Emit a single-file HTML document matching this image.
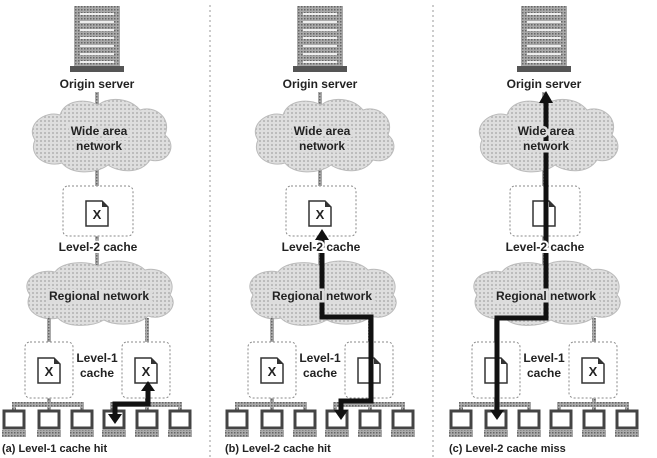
<!DOCTYPE html>
<html><head><meta charset="utf-8"><style>
html,body{margin:0;padding:0;background:#fff;}
svg{display:block;}
text{font-family:"Liberation Sans",sans-serif;font-weight:bold;fill:#222;}
.lw{stroke:#fff;stroke-width:4px;paint-order:stroke;}
.lg{stroke:#dcdcdc;stroke-width:5px;paint-order:stroke;}
</style></head><body>
<svg width="657" height="458" viewBox="0 0 657 458" xmlns="http://www.w3.org/2000/svg">
<defs>
<pattern id="dots" width="4" height="4" patternUnits="userSpaceOnUse">
<rect width="4" height="4" fill="#dedede"/><rect width="2" height="2" fill="#bcbcbc"/>
</pattern>
<pattern id="hatch" width="3" height="3" patternUnits="userSpaceOnUse">
<rect width="3" height="3" fill="#aaa"/><rect width="1.5" height="1.5" fill="#666"/>
</pattern>
<g id="cloudW">
<path d="M35,140 C25,125 45,110 60,115 C65,100 85,98 98,105 C110,96 130,98 140,110 C155,105 172,118 165,135 C178,145 168,165 150,160 C140,175 118,172 108,165 C95,175 70,174 62,163 C45,168 28,155 35,140 Z" fill="url(#dots)" stroke="#bbb"/>
</g>
<g id="cloudR">
<path d="M30,295 C20,282 35,268 55,272 C62,262 85,260 98,266 C110,258 135,260 145,270 C162,266 178,280 170,295 C180,305 165,322 148,316 C138,326 115,326 104,320 C90,328 65,327 58,318 C40,322 22,310 30,295 Z" fill="url(#dots)" stroke="#bbb"/>
</g>
<g id="comp">
<rect x="-10" y="0" width="20" height="17" fill="#fff" stroke="#444" stroke-width="3"/>
<rect x="-12" y="19" width="24" height="7" fill="url(#hatch)"/>
</g>
<g id="doc">
<path d="M-11,-12 H5 L11,-6 V13 H-11 Z" fill="#fff" stroke="#333" stroke-width="1.5"/>
<path d="M5,-12 V-6 H11 Z" fill="#333"/>
</g>
<g id="panel">
<rect x="74" y="6" width="46" height="62" fill="url(#hatch)"/>
<g stroke="#eee" stroke-width="2">
<line x1="80" y1="14" x2="114" y2="14"/><line x1="80" y1="22" x2="114" y2="22"/><line x1="80" y1="30" x2="114" y2="30"/><line x1="80" y1="38" x2="114" y2="38"/><line x1="80" y1="46" x2="114" y2="46"/><line x1="80" y1="54" x2="114" y2="54"/><line x1="80" y1="62" x2="114" y2="62"/>
</g>
<rect x="70" y="66" width="54" height="6" fill="#555"/>
<rect x="95" y="92" width="4" height="14" fill="url(#hatch)"/>
<use href="#cloudW"/>
<rect x="95" y="170" width="4" height="16" fill="url(#hatch)"/>
<rect x="63" y="186" width="70" height="50" rx="5" fill="none" stroke="#888" stroke-dasharray="2,2"/>
<rect x="95" y="236" width="4" height="30" fill="url(#hatch)"/>
<use href="#cloudR"/>
<rect x="47" y="318" width="4" height="24" fill="url(#hatch)"/>
<rect x="145" y="318" width="4" height="24" fill="url(#hatch)"/>
<rect x="25" y="342" width="48" height="56" rx="5" fill="none" stroke="#888" stroke-dasharray="2,2"/>
<rect x="122" y="342" width="48" height="56" rx="5" fill="none" stroke="#888" stroke-dasharray="2,2"/>
<text x="97" y="362" text-anchor="middle" font-size="12">Level-1</text>
<text x="97" y="377" text-anchor="middle" font-size="12">cache</text>
<rect x="47" y="398" width="4" height="6" fill="url(#hatch)"/>
<rect x="145" y="398" width="4" height="6" fill="url(#hatch)"/>
<rect x="12" y="402" width="72" height="5" fill="url(#hatch)"/>
<rect x="110" y="402" width="72" height="5" fill="url(#hatch)"/>
<rect x="12" y="402" width="4" height="10" fill="url(#hatch)"/><rect x="47" y="402" width="4" height="10" fill="url(#hatch)"/><rect x="80" y="402" width="4" height="10" fill="url(#hatch)"/>
<rect x="110" y="402" width="4" height="10" fill="url(#hatch)"/><rect x="145" y="402" width="4" height="10" fill="url(#hatch)"/><rect x="178" y="402" width="4" height="10" fill="url(#hatch)"/>
<use href="#comp" x="14" y="411"/><use href="#comp" x="49" y="411"/><use href="#comp" x="82" y="411"/>
<use href="#comp" x="114" y="411"/><use href="#comp" x="147" y="411"/><use href="#comp" x="180" y="411"/>
</g>
<g id="labels">
<text x="97" y="88" text-anchor="middle" font-size="12" class="lw">Origin server</text>
<text x="99" y="135" text-anchor="middle" font-size="12" class="lg">Wide area</text>
<text x="99" y="150" text-anchor="middle" font-size="12" class="lg">network</text>
<text x="98" y="251" text-anchor="middle" font-size="12" class="lw">Level-2 cache</text>
<text x="99" y="300" text-anchor="middle" font-size="12" class="lg">Regional network</text>
</g>
</defs>

<line x1="210" y1="5" x2="210" y2="458" stroke="#999" stroke-dasharray="2,3"/>
<line x1="433" y1="5" x2="433" y2="458" stroke="#999" stroke-dasharray="2,3"/>

<use href="#panel"/>
<use href="#doc" x="97" y="213"/><text x="97" y="219" text-anchor="middle" font-size="13">X</text>
<use href="#doc" x="49" y="370"/><text x="49" y="376" text-anchor="middle" font-size="13">X</text>
<use href="#doc" x="146" y="370"/><text x="146" y="376" text-anchor="middle" font-size="13">X</text>
<path d="M115,416 V404 H148 V390" fill="none" stroke="#111" stroke-width="5"/>
<path d="M108,414 L122,414 L115,424 Z" fill="#111"/>
<path d="M141,391 L155,391 L148,381 Z" fill="#111"/>
<use href="#labels"/>
<text x="2" y="452" font-size="11" font-weight="normal">(a) Level-1 cache hit</text>

<g transform="translate(223,0)">
<use href="#panel"/>
<use href="#doc" x="97" y="213"/><text x="97" y="219" text-anchor="middle" font-size="13">X</text>
<use href="#doc" x="49" y="370"/><text x="49" y="376" text-anchor="middle" font-size="13">X</text>
<use href="#doc" x="146" y="370"/>
<path d="M99,238 V317 H148 V401 H118 V412" fill="none" stroke="#111" stroke-width="5"/>
<path d="M92,240 L106,240 L99,229 Z" fill="#111"/>
<path d="M111,410 L125,410 L118,420 Z" fill="#111"/>
<use href="#labels"/>
<text x="2" y="452" font-size="11" font-weight="normal">(b) Level-2 cache hit</text>
</g>

<g transform="translate(447,0)">
<use href="#panel"/>
<use href="#doc" x="97" y="213"/>
<use href="#doc" x="49" y="370"/>
<use href="#doc" x="146" y="370"/><text x="146" y="376" text-anchor="middle" font-size="13">X</text>
<path d="M50,412 V318 H99 V102" fill="none" stroke="#111" stroke-width="5"/>
<use href="#labels"/>
<path d="M92,103 L106,103 L99,91 Z" fill="#111"/>
<path d="M43,410 L57,410 L50,420 Z" fill="#111"/>
<text x="2" y="452" font-size="11" font-weight="normal">(c) Level-2 cache miss</text>
</g>
</svg>
</body></html>
